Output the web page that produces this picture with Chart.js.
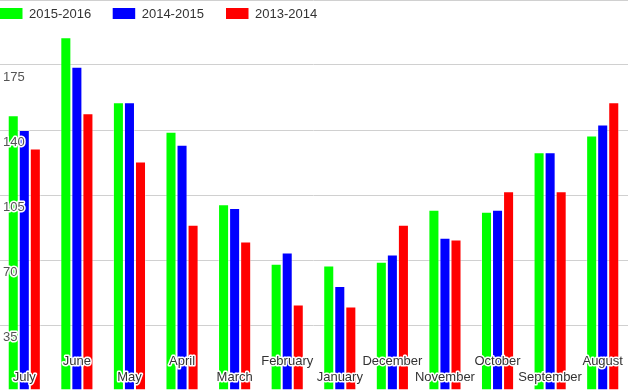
<!DOCTYPE html>
<html>
<head>
<meta charset="utf-8">
<script src="https://cdn.jsdelivr.net/npm/chart.js@4/dist/chart.umd.min.js"></script>
<style>
  html, body { margin: 0; padding: 0; background: #fff; overflow: hidden; }
  #wrap { position: absolute; left: -2px; top: 0; width: 631px; height: 390px; }
</style>
</head>
<body>
<div id="wrap"><canvas id="c"></canvas></div>
<script>
const categories = ["July","June","May","April","March","February","January","December","November","October","September","August"];
const seriesNames = ["2015-2016","2014-2015","2013-2014"];
const values2015 = [148,190,155,139,100,68,67,69,97,96,128,137];
const values2014 = [140,174,155,132,98,74,56,73,82,97,128,143];
const values2013 = [130,149,123,89,80,46,45,89,81,107,107,155];
const yTicks = [35,70,105,140,175];
const colors = ["#00ff00","#0000ff","#ff0000"];

const overlayPlugin = {
  id: 'overlay',
  afterDraw(chart) {
    const ctx = chart.ctx;
    const y = chart.scales.y, x = chart.scales.x;
    ctx.save();
    ctx.font = '13px "Liberation Sans", Arial, sans-serif';
    ctx.lineJoin = 'round';
    ctx.textAlign = 'left';
    ctx.textBaseline = 'alphabetic';
    yTicks.forEach(v => {
      const py = y.getPixelForValue(v) + 15.5;
      ctx.strokeStyle = '#fff'; ctx.lineWidth = 3;
      ctx.strokeText(String(v), 5, py);
      ctx.fillStyle = '#555';
      ctx.fillText(String(v), 5, py);
    });
    ctx.textAlign = 'center';
    categories.forEach((c, i) => {
      const px = x.getPixelForValue(i);
      const py = (i % 2 === 0) ? 381 : 365;
      ctx.strokeStyle = '#fff'; ctx.lineWidth = 3;
      ctx.strokeText(c, px, py);
      ctx.fillStyle = '#333';
      ctx.fillText(c, px, py);
    });
    ctx.textAlign = 'left';
    const starts = [2, 114.7, 228];
    chart.data.datasets.forEach((ds, i) => {
      const sx = starts[i];
      ctx.fillStyle = ds.backgroundColor;
      ctx.fillRect(sx, 8, 22.5, 11);
      ctx.fillStyle = '#333';
      ctx.fillText(ds.label, sx + 29, 18.3);
    });
    ctx.restore();
  }
};

new Chart(document.getElementById('c'), {
  type: 'bar',
  data: {
    labels: categories,
    datasets: [
      { label: seriesNames[0], data: values2015, backgroundColor: colors[0] },
      { label: seriesNames[1], data: values2014, backgroundColor: colors[1] },
      { label: seriesNames[2], data: values2013, backgroundColor: colors[2] }
    ].map(d => Object.assign(d, { borderColor: 'rgba(255,255,255,0.4)', borderWidth: 1, categoryPercentage: 0.63, barPercentage: 1 }))
  },
  options: {
    responsive: true,
    maintainAspectRatio: false,
    animation: false,
    layout: { padding: 0 },
    plugins: { legend: { display: false }, tooltip: { enabled: false } },
    scales: {
      x: { display: false },
      y: {
        display: true,
        min: 0, max: 210,
        ticks: { display: false, stepSize: 35 },
        border: { display: false },
        grid: { color: '#d0d0d0', lineWidth: 1, drawTicks: false }
      }
    }
  },
  plugins: [overlayPlugin]
});
</script>
</body>
</html>
